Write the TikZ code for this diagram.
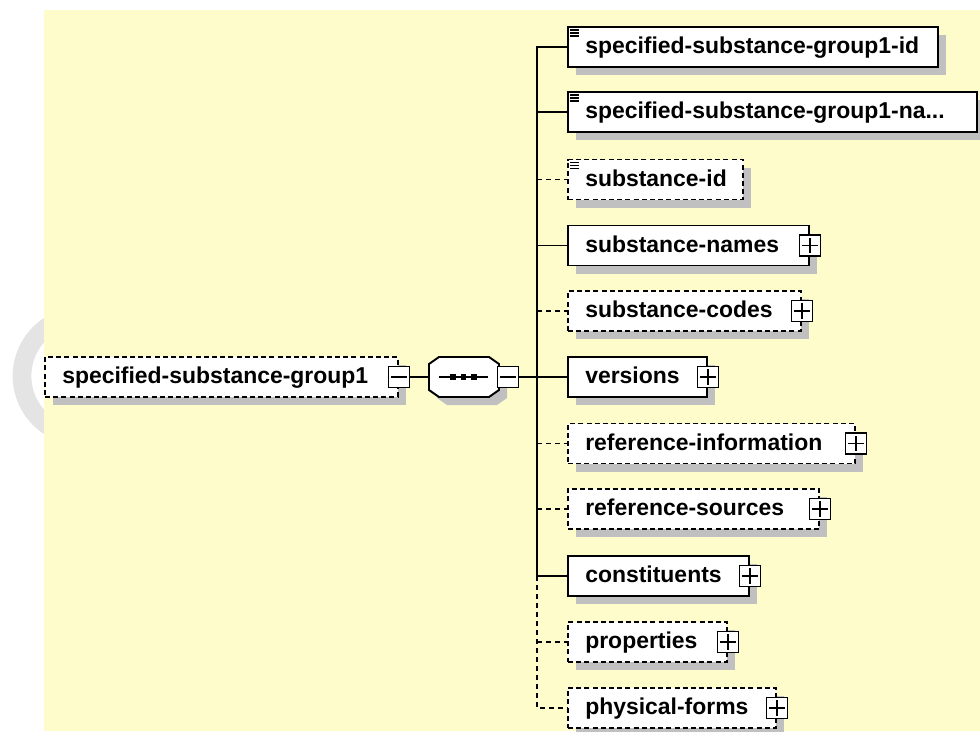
\documentclass[tikz,border=0pt]{standalone}
\usepackage{fontspec}
\setmainfont{Liberation Sans}
\usetikzlibrary{fit,shadows}
\definecolor{bgyellow}{RGB}{255,252,204}
\definecolor{shadowgray}{RGB}{192,192,192}
\definecolor{ringgray}{RGB}{228,228,228}
\tikzset{
  elembox/.style={draw=black, fill=white, line width=1.45pt, inner sep=0pt,
    drop shadow={shadow xshift=6pt, shadow yshift=-6pt, fill=shadowgray, opacity=1}},
  reqbox/.style={elembox, solid},
  optbox/.style={elembox, dash pattern=on 3.75pt off 2.4pt},
  lbl/.style={font=\fontsize{17.2}{20}\selectfont\bfseries, inner sep=0pt, anchor=base west, text=black},
  pmbox/.style={draw=black, fill=white, line width=1.2pt, minimum size=15.75pt, inner sep=0pt},
  minusbox/.style={pmbox, path picture={\draw[line width=1.2pt] ([xshift=2.2pt]path picture bounding box.west) -- ([xshift=-2.2pt]path picture bounding box.east);}},
  plusbox/.style={pmbox, path picture={\draw[line width=1.2pt] ([xshift=2.2pt]path picture bounding box.west) -- ([xshift=-2.2pt]path picture bounding box.east) ([yshift=-2.2pt]path picture bounding box.north) -- ([yshift=2.2pt]path picture bounding box.south);}},
  conn/.style={line width=1.4pt, draw=black},
  optconn/.style={conn, dash pattern=on 3.75pt off 3pt},
  iconline/.style={line width=0.8pt, draw=black}
}
\begin{document}
\begin{tikzpicture}[x=0.75pt, y=-0.75pt]
\useasboundingbox (0,0) rectangle (980,731);
% faint ring and background
\fill[ringgray, even odd rule] (82,376) circle[radius=52pt] (82,376) circle[radius=38pt];
\fill[bgyellow] (44,10) rectangle (980,731);

% trunk junctions
\coordinate (j0) at (537,47);
\coordinate (j1) at (537,112);
\coordinate (j2) at (537,179.5);
\coordinate (j3) at (537,245.5);
\coordinate (j4) at (537,311);
\coordinate (j5) at (537,377);
\coordinate (j6) at (537,443.5);
\coordinate (j7) at (537,509);
\coordinate (j8) at (537,576);
\coordinate (j9) at (537,642);
\coordinate (j10) at (537,708);

% root element
\node[optbox, fit={(45,357)(398,397)}] (root) {};
\node[lbl] (troot) at ([xshift=13.5pt,yshift=-5pt]root.west) {specified-substance-group1};
\node[minusbox] (rm) at (root.east) {};

% sequence compositor
\fill[shadowgray, shift={(8,8)}] (429,364) -- (439,357) -- (489,357) -- (499,364) -- (499,390) -- (489,397) -- (439,397) -- (429,390) -- cycle;
\filldraw[fill=white, draw=black, line width=1.45pt] (429,364) -- (439,357) -- (489,357) -- (499,364) -- (499,390) -- (489,397) -- (439,397) -- (429,390) -- cycle;
\node[fit={(429,357)(499,397)}, inner sep=0pt] (seq) {};
\draw[line width=1.3pt] ([xshift=7.5pt]seq.west) -- ([xshift=-8.25pt]seq.east);
\fill (453,377) +(-2.7,-2.7) rectangle +(2.7,2.7);
\fill (463.5,377) +(-2.7,-2.7) rectangle +(2.7,2.7);
\fill (474,377) +(-2.7,-2.7) rectangle +(2.7,2.7);
\node[minusbox] (sm) at (508,377) {};

% child elements
\node[reqbox, fit={(568,27)(938,67)}] (n0) {};
\node[reqbox, fit={(568,92)(977,132)}] (n1) {};
\node[optbox, fit={(568,159.5)(743,199.5)}] (n2) {};
\node[reqbox, fit={(568,225.5)(809,265.5)}] (n3) {};
\node[optbox, fit={(568,291)(801,331)}] (n4) {};
\node[reqbox, fit={(568,357)(707,397)}] (n5) {};
\node[optbox, fit={(568,423.5)(855,463.5)}] (n6) {};
\node[optbox, fit={(568,489)(819,529)}] (n7) {};
\node[reqbox, fit={(568,556)(749,596)}] (n8) {};
\node[optbox, fit={(568,622)(727,662)}] (n9) {};
\node[optbox, fit={(568,688)(776,728)}] (n10) {};

% connectors
\draw[conn] (rm.east) -- (seq.west);
\draw[conn] (sm.east) -- (j5);
\draw[conn] (n0.west) -- (j0) -- (j8);
\draw[optconn] (j8) -- (j10) -- (n10.west);
\draw[conn] (j1) -- (n1.west);
\draw[optconn] (j2) -- (n2.west);
\draw[conn] (j3) -- (n3.west);
\draw[optconn] (j4) -- (n4.west);
\draw[conn] (j5) -- (n5.west);
\draw[optconn] (j6) -- (n6.west);
\draw[optconn] (j7) -- (n7.west);
\draw[conn] (j8) -- (n8.west);
\draw[optconn] (j9) -- (n9.west);

% labels
\node[lbl] (t0) at ([xshift=13.5pt,yshift=-5pt]n0.west) {specified-substance-group1-id};
\node[lbl] (t1) at ([xshift=13.5pt,yshift=-5pt]n1.west) {specified-substance-group1-na...};
\node[lbl] (t2) at ([xshift=13.5pt,yshift=-5pt]n2.west) {substance-id};
\node[lbl] (t3) at ([xshift=13.5pt,yshift=-5pt]n3.west) {substance-names};
\node[lbl] (t4) at ([xshift=13.5pt,yshift=-5pt]n4.west) {substance-codes};
\node[lbl] (t5) at ([xshift=13.5pt,yshift=-5pt]n5.west) {versions};
\node[lbl] (t6) at ([xshift=13.5pt,yshift=-5pt]n6.west) {reference-information};
\node[lbl] (t7) at ([xshift=13.5pt,yshift=-5pt]n7.west) {reference-sources};
\node[lbl] (t8) at ([xshift=13.5pt,yshift=-5pt]n8.west) {constituents};
\node[lbl] (t9) at ([xshift=13.5pt,yshift=-5pt]n9.west) {properties};
\node[lbl] (t10) at ([xshift=13.5pt,yshift=-5pt]n10.west) {physical-forms};

% simple-content icons
\foreach \b in {n0,n1,n2}{
  \draw[iconline] ([shift={(3,4)}]\b.north west) -- ++(9,0)
                  ([shift={(3,7)}]\b.north west) -- ++(9,0)
                  ([shift={(3,10)}]\b.north west) -- ++(9,0);
}

% expand buttons
\node[plusbox] (p3) at (n3.east) {};
\node[plusbox] (p4) at (n4.east) {};
\node[plusbox] (p5) at (n5.east) {};
\node[plusbox] (p6) at (n6.east) {};
\node[plusbox] (p7) at (n7.east) {};
\node[plusbox] (p8) at (n8.east) {};
\node[plusbox] (p9) at (n9.east) {};
\node[plusbox] (p10) at (n10.east) {};
\end{tikzpicture}
\end{document}
